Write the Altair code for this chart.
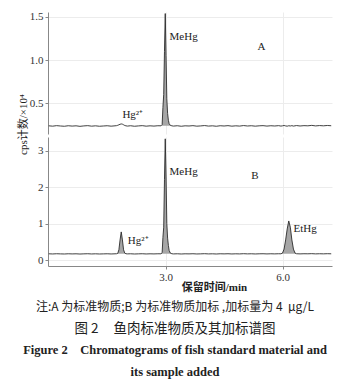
import altair as alt
import pandas as pd

# ---------------- data ----------------
times = [0.00, 0.10, 0.20, 0.30, 0.40, 0.50, 0.60, 0.70, 0.80, 0.90,
         1.00, 1.10, 1.20, 1.30, 1.40, 1.50, 1.60, 1.70,
         1.74, 1.77, 1.80, 1.83, 1.86, 1.89, 1.92, 1.95, 1.98, 2.02,
         2.10, 2.20, 2.30, 2.40, 2.50, 2.60, 2.70, 2.80,
         2.88, 2.91, 2.93, 2.95, 2.97, 2.99, 3.01, 3.03, 3.05, 3.07, 3.09, 3.12, 3.16,
         3.20, 3.30, 3.40, 3.50, 3.60, 3.70, 3.80, 3.90, 4.00, 4.10, 4.20, 4.30, 4.40,
         4.50, 4.60, 4.70, 4.80, 4.90, 5.00, 5.10, 5.20, 5.30, 5.40, 5.50, 5.60, 5.70,
         5.80, 5.90,
         5.96, 6.00, 6.04, 6.08, 6.12, 6.16, 6.20, 6.24, 6.28, 6.32, 6.36,
         6.45, 6.55, 6.65, 6.75, 6.85, 6.95, 7.05, 7.15, 7.25]

signal_A = [0.236, 0.232, 0.238, 0.234, 0.231, 0.237, 0.233, 0.236, 0.230, 0.235,
            0.238, 0.232, 0.236, 0.231, 0.234, 0.237, 0.232, 0.236,
            0.238, 0.242, 0.248, 0.254, 0.258, 0.255, 0.248, 0.240, 0.236, 0.233,
            0.237, 0.231, 0.235, 0.238, 0.232, 0.236, 0.233, 0.237,
            0.236, 0.250, 0.450, 0.600, 1.100, 1.540, 1.050, 0.550, 0.380, 0.300, 0.260, 0.242, 0.236,
            0.233, 0.237, 0.231, 0.236, 0.234, 0.238, 0.232, 0.235, 0.239, 0.233, 0.236, 0.231, 0.237,
            0.234, 0.238, 0.232, 0.236, 0.233, 0.239, 0.234, 0.237, 0.232, 0.236, 0.238, 0.233, 0.237,
            0.234, 0.238,
            0.233, 0.236, 0.240, 0.235, 0.232, 0.237, 0.234, 0.238, 0.233, 0.236, 0.239,
            0.234, 0.238, 0.236, 0.241, 0.235, 0.239, 0.236, 0.240, 0.237]

signal_B = [0.170, 0.166, 0.172, 0.168, 0.165, 0.171, 0.167, 0.170, 0.164, 0.169,
            0.172, 0.166, 0.170, 0.165, 0.168, 0.171, 0.166, 0.170,
            0.172, 0.180, 0.280, 0.550, 0.770, 0.550, 0.280, 0.190, 0.172, 0.168,
            0.171, 0.165, 0.169, 0.172, 0.166, 0.170, 0.167, 0.171,
            0.170, 0.200, 0.620, 0.900, 2.200, 3.320, 2.300, 1.000, 0.600, 0.400, 0.260, 0.190, 0.172,
            0.167, 0.171, 0.165, 0.170, 0.168, 0.172, 0.166, 0.169, 0.173, 0.167, 0.170, 0.165, 0.171,
            0.168, 0.172, 0.166, 0.170, 0.167, 0.173, 0.168, 0.171, 0.166, 0.170, 0.172, 0.167, 0.171,
            0.168, 0.172,
            0.170, 0.190, 0.300, 0.550, 0.850, 1.070, 0.900, 0.550, 0.300, 0.190, 0.172,
            0.168, 0.172, 0.170, 0.174, 0.168, 0.172, 0.169, 0.173, 0.170]

baseline_A = 0.236
baseline_B = 0.170
peak_windows_A = [(2.88, 3.16)]
peak_windows_B = [(1.74, 2.02), (2.88, 3.16), (5.96, 6.36)]

# peak labels: (text, time, value)
labels_A = [("MeHg", 3.10, 1.27), ("A", 5.36, 1.15), ("Hg²⁺", 1.89, 0.36)]
labels_B = [("MeHg", 3.10, 2.41), ("B", 5.20, 2.30), ("Hg²⁺", 2.03, 0.52), ("EtHg", 6.28, 0.86)]

NB = "\u00a0"
y_title = "cps计数/×10⁴"
x_title = "保留时间/min"
caption_note = "注:A" + NB + "为标准物质;B" + NB + "为标准物质加标" + NB + ",加标量为" + NB + "4" + NB + NB + "μg/L"
caption_cn = "图" + NB + "2" + NB * 5 + "鱼肉标准物质及其加标谱图"
caption_en1 = "Figure" + NB + "2" + NB * 4 + "Chromatograms of fish standard material and"
caption_en2 = "its sample added"

# ---------------- chart ----------------
SERIF = "Liberation Serif, Noto Sans CJK SC"
CJK = "Noto Sans CJK SC"
W = 284
XDOM = [-0.02, 7.27]
LINE = "#2b2b2b"
FILL = "#a6a6a6"


def in_windows(t, windows):
    return any(a <= t <= b for a, b in windows)


def panel(sig, base, windows, labels, ydom, yvals, yfmt, h, top):
    df = pd.DataFrame({"t": times, "v": sig})
    df["base"] = base
    dfa = df[[in_windows(t, windows) for t in times]].copy()
    dfa["grp"] = [next(i for i, (a, b) in enumerate(windows) if a <= t <= b) for t in dfa["t"]]

    if top:
        xaxis = alt.Axis(values=[3, 6], labels=False, ticks=False, domain=False,
                         grid=True, title=None)
        yaxis = alt.Axis(values=yvals, format=yfmt, title=y_title, titleX=-25, titleY=112,
                         titleAngle=270, titleAlign="center", titleBaseline="middle",
                         titleFont=SERIF, titleFontSize=11, titleFontWeight="normal",
                         titleColor="#222")
    else:
        xaxis = alt.Axis(values=[3, 6], format=".1f", title=x_title, titleX=166, titleY=21,
                         titleAlign="center", titleBaseline="middle",
                         titleFont=SERIF, titleFontSize=11, titleFontWeight="bold",
                         titleColor="#222")
        yaxis = alt.Axis(values=yvals, format=yfmt, title=None)

    xs = alt.Scale(domain=XDOM, nice=False, zero=False)
    ys = alt.Scale(domain=ydom, nice=False, zero=False)

    area = alt.Chart(dfa).mark_area(color=FILL, opacity=1).encode(
        x=alt.X("t:Q", scale=xs, axis=xaxis),
        y=alt.Y("v:Q", scale=ys, axis=yaxis),
        y2="base:Q",
        detail="grp:N",
    )
    line = alt.Chart(df).mark_line(color=LINE, strokeWidth=0.9).encode(
        x=alt.X("t:Q", scale=xs),
        y=alt.Y("v:Q", scale=ys),
    )
    ldf = pd.DataFrame(labels, columns=["txt", "t", "v"])
    txt = alt.Chart(ldf).mark_text(font=SERIF, fontSize=11, align="left",
                                   baseline="middle", color="#222").encode(
        x=alt.X("t:Q", scale=xs), y=alt.Y("v:Q", scale=ys), text="txt:N")
    return alt.layer(area, line, txt).properties(width=W, height=h)


top = panel(signal_A, baseline_A, peak_windows_A, labels_A, [0.141, 1.558],
            [0.5, 1.0, 1.5], ".1f", 122, True)

bottom = panel(signal_B, baseline_B, peak_windows_B, labels_B, [-0.164, 3.37],
               [0, 1, 2, 3], "d", 129, False)

cap_specs = [
    (caption_note, 170, 12, "normal", CJK),
    (caption_cn, 192, 13.5, "normal", CJK),
    (caption_en1, 213, 12.5, "bold", "Liberation Serif"),
    (caption_en2, 235, 12.5, "bold", "Liberation Serif"),
]
caps = []
for text, yy, fs, fw, ff in cap_specs:
    caps.append(
        alt.Chart(pd.DataFrame({"txt": [text]})).mark_text(
            font=ff, fontSize=fs, fontWeight=fw, align="center", baseline="middle",
            color="#222").encode(x=alt.value(127), y=alt.value(yy), text="txt:N")
    )

bottom = alt.layer(*bottom.layer, *caps).properties(width=W, height=129)

chart = alt.vconcat(top, bottom, spacing=3, bounds="flush").properties(
    padding={"left": 9, "top": 2, "right": 0, "bottom": 0}
).configure_view(stroke=None).configure_axis(
    labelFont="Liberation Serif", labelFontSize=11, labelColor="#333",
    domainColor="#888", tickColor="#888", tickSize=3, labelPadding=2,
    gridColor="#ececec", gridWidth=1,
).configure_axisY(grid=True)

chart.save("out.html", embed_options={"renderer": "svg", "actions": False})
